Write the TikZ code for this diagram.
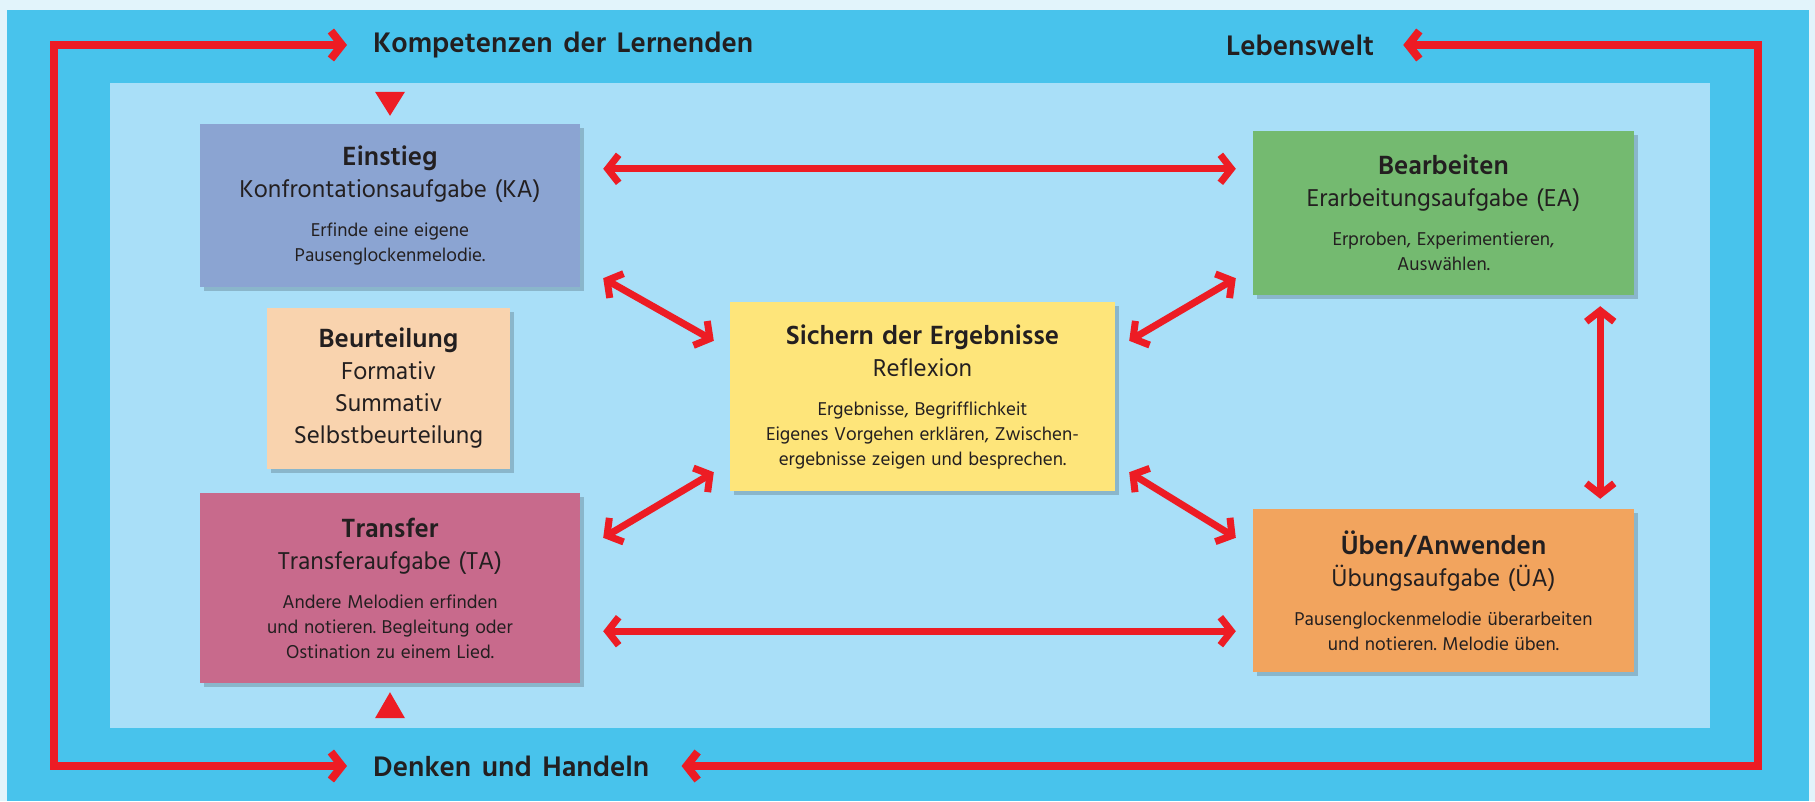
\documentclass[tikz,border=0pt]{standalone}
\usepackage{fontspec}
\setmainfont{Hind Siliguri}[WordSpace=1.5]
\usetikzlibrary{arrows.meta,shadows}

\definecolor{paleblue}{HTML}{E2F4FB}
\definecolor{bandblue}{HTML}{48C3EC}
\definecolor{innerblue}{HTML}{A9DFF8}
\definecolor{arrowred}{HTML}{ED1C24}
\definecolor{ink}{HTML}{231F20}
\definecolor{einstiegcol}{HTML}{8BA4D2}
\definecolor{beurteilcol}{HTML}{F9D3AE}
\definecolor{transfercol}{HTML}{C86A8C}
\definecolor{sicherncol}{HTML}{FEE57A}
\definecolor{bearbeitcol}{HTML}{74BA70}
\definecolor{uebencol}{HTML}{F2A45E}

\newcommand{\fixspace}{\spaceskip=0.3em\relax\xspaceskip=0.3em\relax}
\newcommand{\headtxt}[1]{{\fontsize{27}{32}\selectfont\bfseries\fixspace #1\par}}
\newcommand{\subtxt}[1]{{\fontsize{25}{32}\selectfont\fixspace #1\par}}
\newcommand{\bodytxt}[1]{\vspace{14pt}{\fontsize{19}{25}\selectfont\fixspace #1\par}}

\begin{document}
\begin{tikzpicture}[
    x=1pt, y=-1pt,
    phase/.style={rectangle, fill=#1, inner sep=0pt, align=center, text=ink,
        drop shadow={shadow xshift=4pt, shadow yshift=-4pt, opacity=0.18, fill=black}},
    bandtext/.style={anchor=west, inner sep=0pt, text=ink, font=\fontsize{29}{29}\selectfont\bfseries},
    link/.style={<->, >={Straight Barb[length=11pt,width=28pt]}, line width=7pt, draw=arrowred},
    loop/.style={<->, >={Straight Barb[length=11pt,width=28pt]}, line width=8pt, draw=arrowred},
    marker/.style={fill=arrowred}
]
\useasboundingbox (0,0) rectangle (1815,801);

% Background
\fill[paleblue] (0,0) rectangle (1815,801);
\fill[bandblue] (7,10) rectangle (1809,801);
\fill[innerblue] (110,83) rectangle (1710,728);

% Outer labels
\node[bandtext] (komp) at (373,45) {Kompetenzen der Lernenden};
\node[bandtext] (leben) at (1226,45) {Lebenswelt};
\node[bandtext] (denken) at (373,766) {Denken und Handeln};
\coordinate (ftl) at (54,45);
\coordinate (fbr) at (1758,766);

% Phase boxes
\node[phase=einstiegcol, minimum width=380, minimum height=163, text width=380] (einstieg) at (390,205.5)
    {\headtxt{Einstieg}\subtxt{Konfrontationsaufgabe (KA)}\bodytxt{Erfinde eine eigene\\Pausenglockenmelodie.}};
\node[phase=beurteilcol, minimum width=243, minimum height=161, text width=243] (beurteilung) at (388.5,388.5)
    {\headtxt{Beurteilung}\subtxt{Formativ\\Summativ\\Selbstbeurteilung}};
\node[phase=transfercol, minimum width=380, minimum height=190, text width=380] (transfer) at (390,588)
    {\headtxt{Transfer}\subtxt{Transferaufgabe (TA)}\bodytxt{Andere Melodien erfinden\\und notieren. Begleitung oder\\Ostination zu einem Lied.}};
\node[phase=sicherncol, minimum width=385, minimum height=189, text width=385] (sichern) at (922.5,396.5)
    {\headtxt{Sichern der Ergebnisse}\subtxt{Reflexion}\bodytxt{Ergebnisse, Begrifflichkeit\\Eigenes Vorgehen erklären, Zwischen-\\ergebnisse zeigen und besprechen.}};
\node[phase=bearbeitcol, minimum width=381, minimum height=164, text width=381] (bearbeiten) at (1443.5,213)
    {\headtxt{Bearbeiten}\subtxt{Erarbeitungsaufgabe (EA)}\bodytxt{Erproben, Experimentieren,\\Auswählen.}};
\node[phase=uebencol, minimum width=381, minimum height=163, text width=381] (ueben) at (1443.5,590.5)
    {\headtxt{Üben/Anwenden}\subtxt{Übungsaufgabe (ÜA)}\bodytxt{Pausenglockenmelodie überarbeiten\\und notieren. Melodie üben.}};

% Frame arrows
\draw[loop] ([xshift=-26pt]denken.west) -| (ftl) -- ([xshift=-26pt]komp.west);
\draw[loop] ([xshift=29pt]leben.east) -| (fbr) -- ([xshift=32pt]denken.east);

% Markers
\fill[marker] ([yshift=8pt]einstieg.north) -- ++(-15,-24) -- ++(30,0) -- cycle;
\fill[marker] ([yshift=-9pt]transfer.south) -- ++(-15,26) -- ++(30,0) -- cycle;

% Links between phases
\draw[link] ([shift={(23,45)}]einstieg.north east) -- ([shift={(-17,38)}]bearbeiten.north west);
\draw[link] ([shift={(23,-52)}]transfer.south east) -- ([shift={(-17,-41)}]ueben.south west);
\draw[link] ([shift={(23,-9)}]einstieg.south east) -- ([shift={(-16,39)}]sichern.north west);
\draw[link] ([shift={(23,45)}]transfer.north east) -- ([shift={(-16,-19)}]sichern.south west);
\draw[link] ([shift={(14,39)}]sichern.north east) -- ([shift={(-17,-17)}]bearbeiten.south west);
\draw[link] ([shift={(14,-19)}]sichern.south east) -- ([shift={(-17,29)}]ueben.north west);
\draw[link] ([shift={(-34,11)}]bearbeiten.south east) -- ([shift={(-34,-10)}]ueben.north east);

\end{tikzpicture}
\end{document}
